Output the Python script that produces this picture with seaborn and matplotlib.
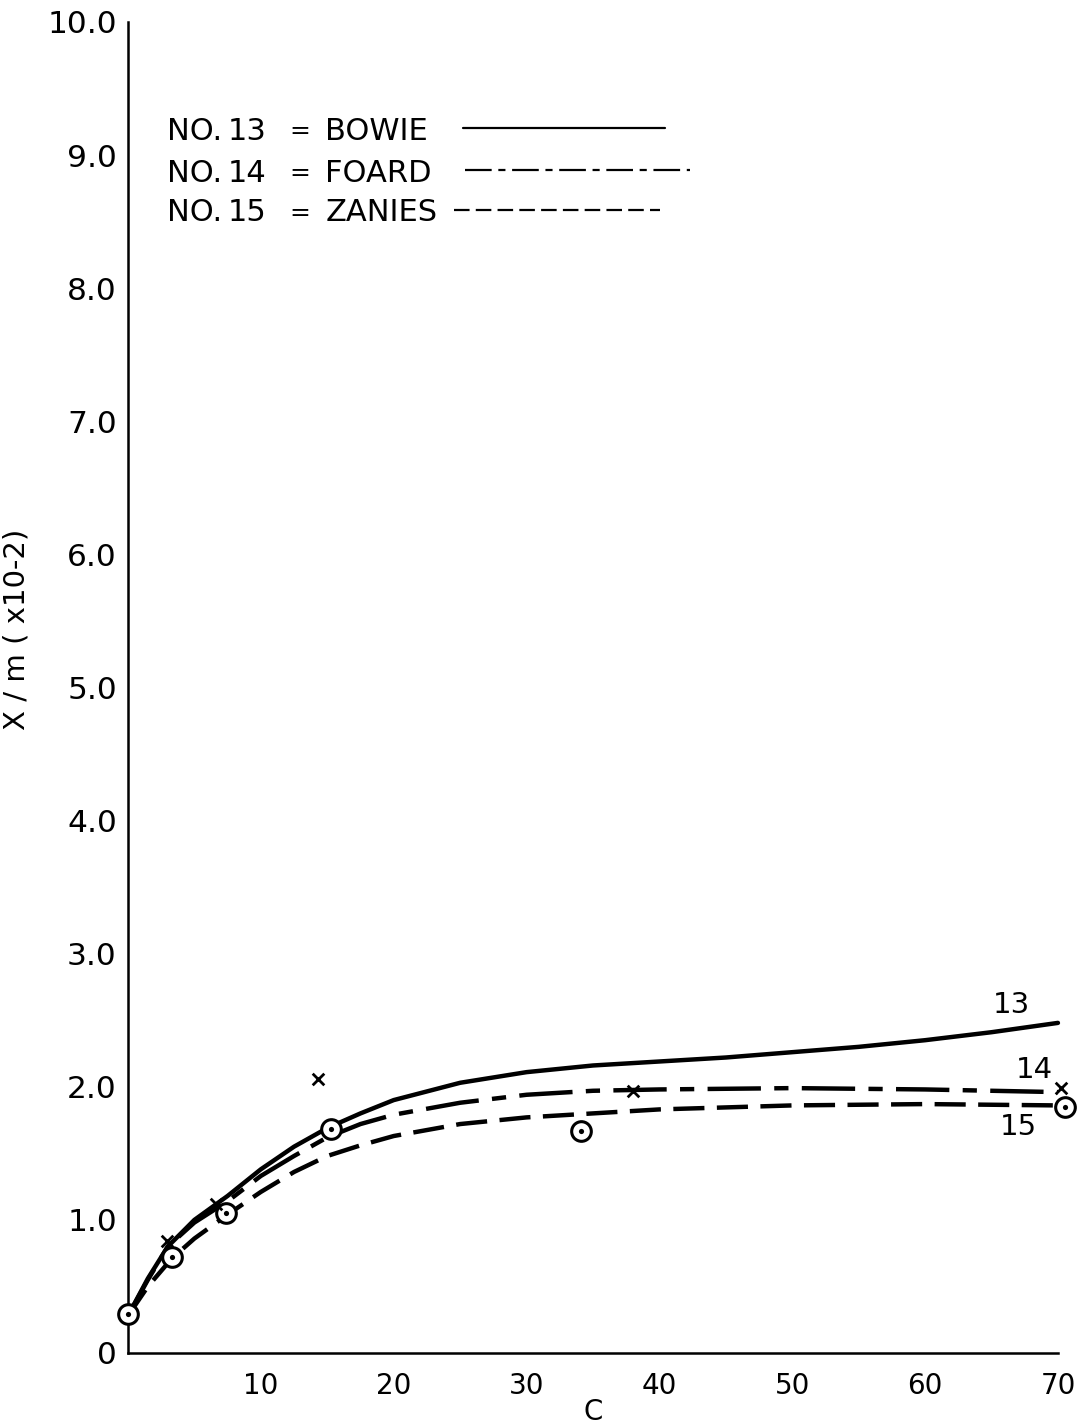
import numpy as np
import pandas as pd
import matplotlib
matplotlib.use('Agg')
import matplotlib.pyplot as plt
import seaborn as sns

# curve values (C vs X/m x10^-2)
c_13 = [0, 1.5, 3, 5, 7.5, 10, 12.5, 15, 17.5, 20, 25, 30, 35, 40, 45, 50, 55, 60, 65, 70]
xm_13 = [0.28, 0.56, 0.80, 1.00, 1.18, 1.38, 1.55, 1.69, 1.80, 1.90, 2.03, 2.11, 2.16, 2.19, 2.22, 2.26, 2.30, 2.35, 2.41, 2.48]

c_14 = [0, 1.5, 3, 5, 7.5, 10, 12.5, 15, 17.5, 20, 25, 30, 35, 40, 50, 60, 65, 70]
xm_14 = [0.28, 0.55, 0.80, 0.98, 1.14, 1.33, 1.48, 1.62, 1.72, 1.79, 1.88, 1.94, 1.97, 1.98, 1.99, 1.98, 1.97, 1.96]

c_15 = [0, 1.5, 3.3, 5, 7.5, 10, 12.5, 15, 17.5, 20, 25, 30, 35, 40, 50, 60, 70]
xm_15 = [0.28, 0.50, 0.71, 0.86, 1.04, 1.21, 1.36, 1.48, 1.56, 1.63, 1.72, 1.77, 1.80, 1.83, 1.86, 1.87, 1.86]

# measured points
circ_c = [0, 3.3, 7.4, 15.3, 34.1, 70.5]
circ_xm = [0.29, 0.72, 1.05, 1.68, 1.67, 1.85]
cross_c = [2.9, 6.6, 14.3, 38.0, 70.2]
cross_xm = [0.84, 1.12, 2.06, 1.97, 1.99]

legend_rows = [('NO.', '13', 'BOWIE'), ('NO.', '14', 'FOARD'), ('NO.', '15', 'ZANIES')]
x_ticks = [10, 20, 30, 40, 50, 60, 70]
y_ticks = [0, 1, 2, 3, 4, 5, 6, 7, 8, 9, 10]
y_tick_labels = ['0', '1.0', '2.0', '3.0', '4.0', '5.0', '6.0', '7.0', '8.0', '9.0', '10.0']

sns.set_theme(style='white')
plt.rcParams['font.family'] = ['DejaVu Sans']
plt.rcParams['text.color'] = 'black'
plt.rcParams['xtick.color'] = 'black'
plt.rcParams['ytick.color'] = 'black'
plt.rcParams['axes.labelcolor'] = 'black'

fig = plt.figure(figsize=(10.91, 14.26), dpi=100)
ax = fig.add_axes([0.1173, 0.0512, 0.8524, 0.9334])

lw = 3.2
dash_dot = [12, 3, 3.2, 3]
dashed = [7, 2.8]
sns.lineplot(x=c_13, y=xm_13, ax=ax, color='black', lw=lw, clip_on=False)
sns.lineplot(x=c_14, y=xm_14, ax=ax, color='black', lw=lw, clip_on=False).lines[-1].set_dashes(dash_dot)
sns.lineplot(x=c_15, y=xm_15, ax=ax, color='black', lw=lw, clip_on=False).lines[-1].set_dashes(dashed)

# circled dot points
sns.scatterplot(x=circ_c, y=circ_xm, ax=ax, marker='o', s=200, facecolor='white',
                edgecolor='black', linewidth=2.2, zorder=5, clip_on=False)
sns.scatterplot(x=circ_c, y=circ_xm, ax=ax, marker='o', s=14, color='black',
                linewidth=0, zorder=6, clip_on=False)
sns.scatterplot(x=cross_c, y=cross_xm, ax=ax, marker='x', s=70, color='black',
                linewidth=2.0, zorder=6, clip_on=False)

ax.set_xlim(0, 70)
ax.set_ylim(0, 10)
ax.set_xticks(x_ticks)
ax.set_xticklabels([str(t) for t in x_ticks], fontsize=20)
ax.set_yticks(y_ticks)
ax.set_yticklabels(y_tick_labels, fontsize=22.5)
ax.tick_params(length=0, pad=8)
ax.tick_params(axis='x', pad=14)
sns.despine(ax=ax)
for s in ['left', 'bottom']:
    ax.spines[s].set_color('black')
    ax.spines[s].set_linewidth(1.8)

ax.set_xlabel('C', fontsize=20, labelpad=-2)
ax.set_ylabel('X / m ( x10-2)', fontsize=21)
ax.yaxis.set_label_coords(-0.105, 0.544)

# hand-lettered key at upper left
row_y = [0.918, 0.8865, 0.8565]
styles = [dict(ls='-'), dict(dashes=dash_dot), dict(dashes=dashed)]
seg_start = [0.360, 0.362, 0.351]
seg_end = [0.578, 0.604, 0.572]
for (a, b, name), yy, st, x0, x1 in zip(legend_rows, row_y, styles, seg_start, seg_end):
    ax.text(0.042, yy, a, transform=ax.transAxes, fontsize=22, va='center')
    ax.text(0.1075, yy, b, transform=ax.transAxes, fontsize=22, va='center')
    ax.text(0.174, yy, '=', transform=ax.transAxes, fontsize=18, va='center')
    ax.text(0.212, yy, name, transform=ax.transAxes, fontsize=22, va='center')
    ax.plot([x0, x1], [yy + 0.002, yy + 0.002], transform=ax.transAxes, color='black', lw=1.6, **st)

# curve labels
ax.text(c_13[-1] - 3.5, xm_13[-1] + 0.03, '13', fontsize=21, ha='center', va='bottom')
ax.text(c_14[-1] - 1.8, xm_14[-1] + 0.06, '14', fontsize=21, ha='center', va='bottom')
ax.text(c_15[-1] - 3.0, xm_15[-1] - 0.06, '15', fontsize=21, ha='center', va='top')

fig.savefig('out.png', dpi=100, facecolor='white')
